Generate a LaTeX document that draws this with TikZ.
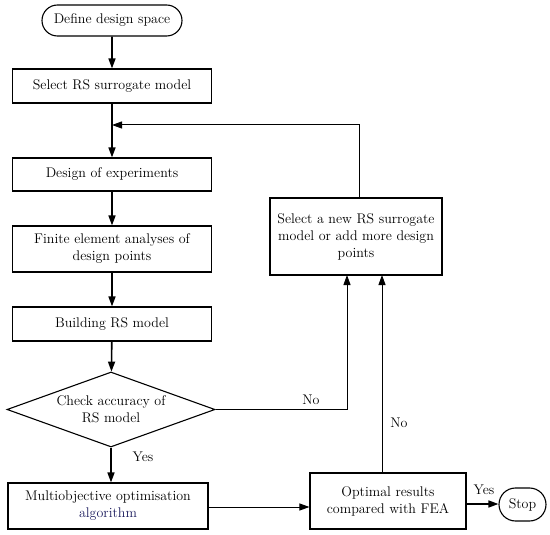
\documentclass[tikz,border=0pt]{standalone}
\usetikzlibrary{shapes.geometric,shapes.misc,arrows.meta}
\definecolor{navy}{RGB}{30,30,95}
\tikzset{
  box/.style={draw, line width=1.1pt, rectangle, align=center, inner sep=2pt,
    font=\fontsize{14}{17}\selectfont},
  term/.style={draw, line width=1.1pt, rounded rectangle, align=center, inner sep=2pt,
    font=\fontsize{14}{17}\selectfont},
  dec/.style={draw, line width=1.1pt, diamond, aspect=2.77, inner sep=0pt, align=center,
    font=\fontsize{14}{17}\selectfont},
  lbl/.style={font=\fontsize{14}{17}\selectfont, inner sep=1pt},
  mainarr/.style={line width=1.6pt, -{Triangle[length=10pt,width=7pt]}},
  thinarr/.style={line width=1pt, -{Triangle[length=10pt,width=7pt]}},
}
\begin{document}
\begin{tikzpicture}[x=1pt,y=-1pt]
\useasboundingbox (0,0) rectangle (550,535);
\node[term, minimum width=144pt, minimum height=31pt] (start) at (112,20.5) {Define design space};
\node[box, minimum width=199pt, minimum height=34pt] (sel) at (112,86) {Select RS surrogate model};
\node[box, minimum width=199pt, minimum height=33pt] (doe) at (112,174.5) {Design of experiments};
\node[box, minimum width=199pt, minimum height=46pt] (fea) at (112,249) {Finite element analyses of\\design points};
\node[box, minimum width=199pt, minimum height=34pt] (brs) at (112,324) {Building RS model};
\node[dec, minimum width=208pt, minimum height=75pt] (chk) at (111,409.5) {Check accuracy of\\RS model};
\node[box, minimum width=200pt, minimum height=46pt] (mult) at (108,506) {Multiobjective optimisation\\\textcolor{navy}{algorithm}};
\node[box, minimum width=172pt, minimum height=77pt] (newb) at (356,236.5) {Select a new RS surrogate\\model or add more design\\points};
\node[box, minimum width=156pt, minimum height=56pt] (opt) at (388,501) {Optimal results\\compared with FEA};
\node[term, minimum width=49pt, minimum height=33pt, inner sep=1pt] (stop) at (522.5,504.5) {Stop};

\coordinate (merge) at (112,125);
\coordinate (loopup) at (359,198);
\coordinate (noa) at (347,275);
\coordinate (nob) at (382,275);
\coordinate (optn) at (382,473);

\draw[mainarr] (start) -- (sel);
\draw[mainarr] (sel) -- (doe);
\draw[mainarr] (doe) -- (fea);
\draw[mainarr] (fea) -- (brs);
\draw[mainarr] (brs) -- (chk);
\draw[mainarr] (chk.south) -- (chk.south |- mult.north);
\draw[thinarr] (loopup) |- (merge);
\draw[thinarr] (chk.east) -| (noa);
\draw[thinarr] (optn) -- (nob);
\draw[thinarr] (mult.east |- 0,507) -- (opt.west |- 0,507);
\draw[mainarr] (opt.east |- 0,504) -- (stop.west |- 0,504);

\node[lbl] (yes1) at (143,457) {Yes};
\node[lbl] (no1) at (311,400) {No};
\node[lbl] (no2) at (399,423) {No};
\node[lbl] (yes2) at (484,490) {Yes};
\end{tikzpicture}
\end{document}
